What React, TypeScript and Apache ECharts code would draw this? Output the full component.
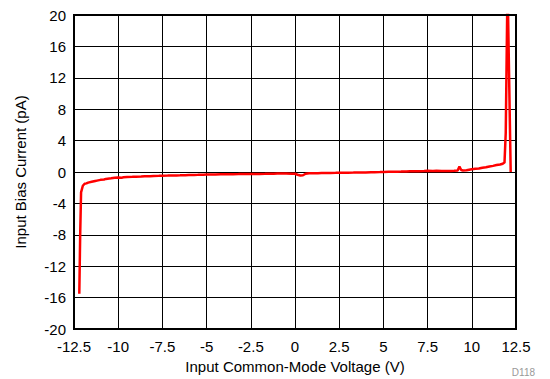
import React, { useEffect, useRef } from "react";
import * as echarts from "echarts";

const xTicks = [-12.5, -10, -7.5, -5, -2.5, 0, 2.5, 5, 7.5, 10, 12.5];
const yTicks = [-20, -16, -12, -8, -4, 0, 4, 8, 12, 16, 20];

const voltage = [
  -12.2, -12.15, -12.1, -12.0, -11.9, -11.8, -11.7, -11.5, -11.3, -11.2, -11.0,
  -10.8, -10.7, -10.5, -10.4, -10.2, -10.0, -9.8, -9.7, -9.5, -9.2, -9.0, -8.7,
  -8.5, -8.2, -8.0, -7.7, -7.5, -7.2, -7.0, -6.7, -6.5, -6.2, -6.0, -5.7, -5.5,
  -5.2, -5.0, -4.7, -4.5, -4.2, -4.0, -3.7, -3.5, -3.2, -3.0, -2.7, -2.5, -2.2,
  -2.0, -1.7, -1.5, -1.2, -1.0, -0.7, -0.5, -0.2, 0.0, 0.15, 0.3, 0.45, 0.6,
  0.8, 1.0, 1.3, 1.5, 1.8, 2.0, 2.3, 2.5, 2.8, 3.0, 3.3, 3.5, 3.8, 4.0, 4.3,
  4.5, 4.8, 5.0, 5.3, 5.5, 5.8, 6.0, 6.3, 6.5, 6.8, 7.0, 7.3, 7.5, 7.8, 8.0,
  8.3, 8.5, 8.8, 9.0, 9.2, 9.3, 9.4, 9.5, 9.7, 10.0, 10.2, 10.4, 10.6, 10.8,
  11.0, 11.2, 11.4, 11.6, 11.75, 11.85, 11.92, 12.0, 12.03, 12.05, 12.2,
];
const biasCurrent = [
  -15.5, -8.0, -2.6, -1.75, -1.5, -1.45, -1.35, -1.25, -1.15, -1.1, -1.0,
  -0.95, -0.88, -0.82, -0.8, -0.74, -0.7, -0.72, -0.68, -0.64, -0.62, -0.6,
  -0.58, -0.55, -0.53, -0.5, -0.49, -0.47, -0.46, -0.44, -0.43, -0.42, -0.4,
  -0.38, -0.37, -0.36, -0.34, -0.33, -0.32, -0.31, -0.3, -0.3, -0.29, -0.28,
  -0.27, -0.26, -0.26, -0.25, -0.24, -0.24, -0.23, -0.22, -0.21, -0.2, -0.2,
  -0.2, -0.21, -0.22, -0.35, -0.45, -0.42, -0.22, -0.17, -0.15, -0.15, -0.14,
  -0.13, -0.12, -0.11, -0.1, -0.09, -0.08, -0.07, -0.06, -0.05, -0.05, -0.03,
  -0.02, -0.01, 0.0, 0.02, 0.03, 0.04, 0.05, 0.07, 0.08, 0.09, 0.1, 0.12, 0.15,
  0.14, 0.15, 0.13, 0.12, 0.14, 0.15, 0.2, 0.7, 0.25, 0.2, 0.22, 0.35, 0.4,
  0.45, 0.55, 0.6, 0.7, 0.78, 0.88, 0.95, 1.05, 1.2, 5.0, 20.0, 23.0, 23.0, 0.0,
];

export default function App() {
  const ref = useRef<HTMLDivElement>(null);
  useEffect(() => {
    if (!ref.current) return;
    const chart = echarts.init(ref.current, undefined, { renderer: "svg" });
    const font = "'Liberation Sans', Arial, sans-serif";
    chart.setOption({
      animation: false,
      textStyle: { fontFamily: font },
      grid: {
        left: 74,
        right: 34,
        top: 15,
        bottom: 50,
        show: true,
        borderColor: "#000",
        borderWidth: 2,
        z: 10,
      },
      xAxis: {
        type: "value",
        min: xTicks[0],
        max: xTicks[xTicks.length - 1],
        interval: 2.5,
        name: "Input Common-Mode Voltage (V)",
        nameLocation: "middle",
        nameGap: 27,
        nameTextStyle: { fontSize: 15, color: "#000", fontFamily: font },
        axisLine: { show: false },
        axisTick: { show: false },
        axisLabel: {
          fontSize: 15,
          color: "#000",
          margin: 10,
          fontFamily: font,
          formatter: (v: number) => String(v),
        },
        splitLine: { show: true, lineStyle: { color: "#000", width: 1 } },
      },
      yAxis: {
        type: "value",
        min: yTicks[0],
        max: yTicks[yTicks.length - 1],
        interval: 4,
        name: "Input Bias Current (pA)",
        nameLocation: "middle",
        nameGap: 46,
        nameTextStyle: { fontSize: 15, color: "#000", fontFamily: font },
        axisLine: { show: false },
        axisTick: { show: false },
        axisLabel: { fontSize: 15, color: "#000", margin: 8, fontFamily: font },
        splitLine: { show: true, lineStyle: { color: "#000", width: 1 } },
      },
      series: [
        {
          type: "line",
          data: voltage.map((v, i) => [v, biasCurrent[i]]),
          showSymbol: false,
          clip: true,
          lineStyle: { color: "#ff0000", width: 2.5 },
          z: 5,
        },
      ],
      graphic: [
        {
          type: "text",
          right: 15,
          top: 367,
          style: { text: "D118", fontSize: 10, fill: "#999", fontFamily: font },
        },
      ],
    });
    return () => chart.dispose();
  }, []);
  return (
    <div
      ref={ref}
      style={{ position: "absolute", left: 0, top: 0, width: 550, height: 379 }}
    />
  );
}
